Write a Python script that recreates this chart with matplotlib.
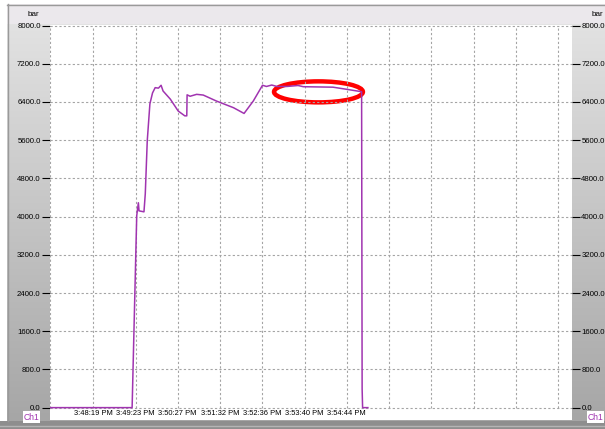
import numpy as np
import matplotlib
matplotlib.use('Agg')
import matplotlib.pyplot as plt
from matplotlib.patches import Ellipse, Rectangle

plt.rcParams['font.family'] = ['Liberation Sans', 'DejaVu Sans']

# time in seconds after 3:48:19 PM, pressure in bar
t_sec = [-66, 59, 66, 68.5, 69.5, 77, 79, 82, 86, 90, 94, 99, 103, 106, 117, 129,
         139, 142, 142.5, 147, 157, 167, 187, 213, 229, 243, 257, 263, 271, 279,
         294, 311, 319, 364, 385, 407.5, 408.3, 409, 417]
pressure = [0, 0, 4020, 4290, 4120, 4100, 4480, 5590, 6360, 6590, 6700, 6690, 6750,
            6630, 6460, 6210, 6110, 6110, 6550, 6520, 6560, 6545, 6420, 6280, 6160,
            6420, 6750, 6725, 6755, 6725, 6725, 6745, 6720, 6710, 6665, 6615, 390, 0, 0]
tick_sec = [0, 64, 128, 193, 257, 321, 385]
tick_labels = ['3:48:19 PM', '3:49:23 PM', '3:50:27 PM', '3:51:32 PM',
               '3:52:36 PM', '3:53:40 PM', '3:54:44 PM']
y_ticks = np.arange(0, 8001, 800)

W, H = 605, 429
fig = plt.figure(figsize=(W / 100, H / 100), dpi=100)
fig.patch.set_facecolor('white')

# window background (pixel coordinates, y down)
bg = fig.add_axes([0, 0, 1, 1], zorder=-5)
bg.set_xlim(0, W)
bg.set_ylim(H, 0)
bg.axis('off')
grad = np.linspace(0, 1, 256).reshape(-1, 1)
bg.imshow(grad, cmap=matplotlib.colors.LinearSegmentedColormap.from_list(
    'g', ['#e2e2e2', '#a6a6a6']), extent=[7, W, 421, 24], aspect='auto')
bg.add_patch(Rectangle((7, 4), W - 7, 20, color='#ebe8ec', lw=0))
bg.plot([7, W], [4.5, 4.5], color='#9a9a9a', lw=1)
bg.plot([7.5, 7.5], [4, 421], color='#9a9a9a', lw=1)
bg.add_patch(Rectangle((0, 421), W, 8, color='#8e8e8e', lw=0))
bg.plot([0, W], [426, 426], color='#b4b4b4', lw=1)

# plot area
ax = fig.add_axes([50 / W, 1 - 420 / H, 522 / W, 395 / H])
ax.set_facecolor('white')
for s in ax.spines.values():
    s.set_visible(False)

x_min, x_max = -65.7, 727
ax.set_xlim(x_min, x_max)
ax.set_ylim(-259, 8012)

grid_x = [x_min] + list(np.arange(12) * 64.2)
ax.vlines(grid_x, 0, 8000, colors='#a4a4a4', linestyles=(0, (2, 2)), lw=0.8)
ax.hlines(y_ticks, x_min, x_max, colors='#a4a4a4', linestyles=(0, (2, 2)), lw=0.8)

ax.plot(t_sec, pressure, color='#a034b0', lw=1.1)

ax.add_patch(Ellipse((342, 6612), 135, 440, fill=False, ec='#ff0000', lw=3.2))

ax.set_xticks(tick_sec)
ax.set_xticklabels(tick_labels)
ax.tick_params(axis='x', length=0, pad=-7.0, labelsize=5.4)
ax.set_yticks(y_ticks)
ax.set_yticklabels([f'{v:.1f}' for v in y_ticks])
ax.tick_params(axis='y', left=True, right=True, labelleft=True, labelright=True,
               length=5.5, width=0.8, pad=1.2, labelsize=5.6)

# unit labels and channel tags
fig.text(33 / W, 1 - 15 / H, 'bar', fontsize=5.8, ha='center', va='center')
fig.text(597 / W, 1 - 15 / H, 'bar', fontsize=5.8, ha='center', va='center')
for xc in (31.5, 595.5):
    fig.text(xc / W, 1 - 417 / H, 'Ch1', fontsize=6.2, color='#a034b0', ha='center',
             va='center', bbox=dict(boxstyle='square,pad=0.12', fc='white', ec='none'))

fig.savefig('out.png', dpi=100)
